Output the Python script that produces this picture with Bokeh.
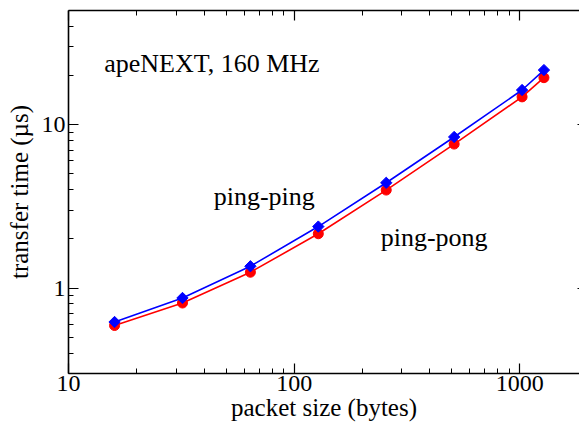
from bokeh.plotting import figure
from bokeh.models import LogAxis, FixedTicker, Label, Range1d, NumeralTickFormatter
from bokeh.embed import file_html
from bokeh.resources import INLINE

# ---- data ----
packet_size = [16, 32, 64, 128, 256, 512, 1024, 1280]
ping_ping = [0.62, 0.87, 1.36, 2.38, 4.41, 8.41, 16.3, 21.6]
ping_pong = [0.59, 0.81, 1.25, 2.15, 3.98, 7.61, 14.8, 19.4]

x_major = [10, 100, 1000]
x_minor = [20, 30, 40, 50, 60, 70, 80, 90, 200, 300, 400, 500, 600, 700, 800, 900]
y_major = [1, 10]
y_minor = [0.3, 0.4, 0.5, 0.6, 0.7, 0.8, 0.9, 2, 3, 4, 5, 6, 7, 8, 9, 20, 30, 40]

FONT = "Liberation Serif"

p = figure(width=579, height=423, x_axis_type="log", y_axis_type="log",
           x_range=Range1d(10, 1840), y_range=Range1d(0.3, 50),
           output_backend="svg", toolbar_location=None,
           min_border_left=68, min_border_right=0, min_border_top=10,
           min_border_bottom=50)
p.outline_line_color = None
p.xgrid.visible = False
p.ygrid.visible = False
p.background_fill_color = "white"
p.border_fill_color = "white"


def style_axis(ax, ticks, minors, labels=True, tick_in=10, minor_in=5, line=True):
    ax.ticker = FixedTicker(ticks=ticks, minor_ticks=minors)
    ax.major_tick_in = tick_in
    ax.major_tick_out = 0
    ax.minor_tick_in = minor_in
    ax.minor_tick_out = 0
    ax.major_tick_line_width = 1.2
    ax.minor_tick_line_width = 1
    ax.major_tick_line_color = "black"
    ax.minor_tick_line_color = "black" if minor_in > 0 else None
    ax.axis_line_color = "black" if line else None
    ax.axis_line_width = 1.6
    ax.formatter = NumeralTickFormatter(format="0")
    if labels:
        ax.major_label_text_font = FONT
        ax.major_label_text_font_size = "24px"
        ax.major_label_text_color = "black"
        ax.axis_label_text_font = FONT
        ax.axis_label_text_font_size = "25px"
        ax.axis_label_text_font_style = "normal"
        ax.axis_label_text_color = "black"
    else:
        ax.major_label_text_font_size = "1px"
        ax.major_label_text_color = None
        ax.major_label_standoff = 0


xa = p.xaxis[0]
ya = p.yaxis[0]
style_axis(xa, x_major, x_minor)
style_axis(ya, y_major, y_minor)
xa.axis_label = "packet size (bytes)"
ya.axis_label = "transfer time (µs)"
xa.major_label_standoff = 2
xa.axis_label_standoff = 0
ya.major_label_standoff = 3
ya.axis_label_standoff = 6

top = LogAxis()
style_axis(top, x_major, x_minor, labels=False)
p.add_layout(top, "above")
right = LogAxis()
style_axis(right, y_major, [], labels=False, tick_in=2, minor_in=0, line=False)
p.add_layout(right, "right")

# ping-pong (red circles)
p.line(packet_size, ping_pong, line_color="#ff0000", line_width=1.6)
p.scatter(packet_size, ping_pong, marker="circle", size=10,
          fill_color="#ff0000", line_color="#ff0000")
# ping-ping (blue diamonds)
p.line(packet_size, ping_ping, line_color="#0000ff", line_width=1.6)
p.scatter(packet_size, ping_ping, marker="square", angle=0.785398, size=8,
          fill_color="#0000ff", line_color="#0000ff")

for x, y, t in [(14.4, 23.8, "apeNEXT, 160 MHz"),
                (44, 3.62, "ping-ping"),
                (242, 2.04, "ping-pong")]:
    p.add_layout(Label(x=x, y=y, text=t, text_font=FONT, text_font_size="26px",
                       text_baseline="alphabetic", text_color="black"))

open("out.html", "w").write(file_html(p, INLINE))
